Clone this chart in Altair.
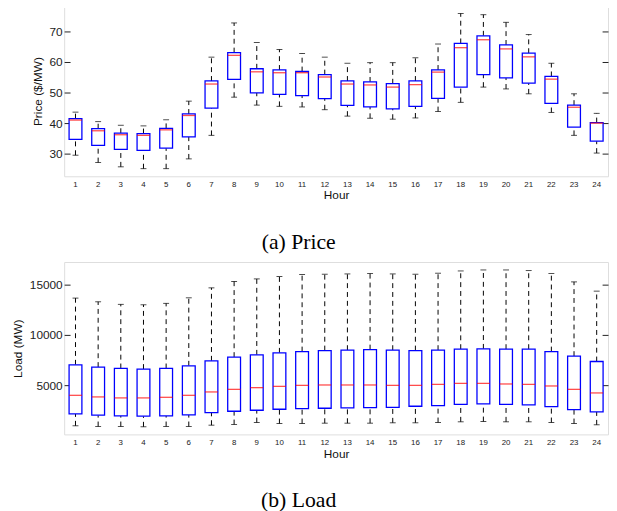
import altair as alt
import pandas as pd

hours = list(range(1, 25))

price_low = [29.5, 27.1, 25.7, 25.1, 25.1, 28.3, 36.0, 48.5, 45.9, 45.5, 45.3, 44.4,
             42.3, 41.6, 41.3, 41.7, 43.8, 46.8, 51.8, 51.2, 49.6, 43.5, 36.0, 30.2]
price_q1 = [34.7, 32.7, 31.4, 31.1, 31.8, 35.5, 44.9, 54.3, 49.9, 49.4, 49.0, 48.0,
            45.8, 45.3, 44.7, 45.5, 48.1, 51.8, 55.9, 54.8, 53.1, 46.5, 38.7, 34.1]
price_med = [41.0, 37.5, 36.2, 36.0, 37.8, 42.5, 52.8, 62.2, 56.8, 56.5, 56.5, 55.1,
             52.8, 52.5, 51.8, 52.6, 56.7, 64.7, 67.3, 64.3, 61.7, 54.4, 45.2, 40.0]
price_q3 = [41.5, 38.2, 36.7, 36.6, 38.3, 43.0, 53.8, 63.1, 57.8, 57.4, 56.9, 55.9,
            53.8, 53.5, 52.9, 53.8, 57.4, 66.1, 68.6, 65.6, 62.9, 55.3, 45.9, 40.2]
price_high = [43.6, 40.5, 39.3, 39.1, 41.1, 47.2, 61.6, 72.8, 66.4, 64.1, 62.8, 61.6,
              59.6, 59.8, 59.8, 61.4, 65.9, 75.9, 75.5, 73.0, 69.0, 59.6, 49.6, 43.2]

load_low = [1005, 936, 936, 907, 936, 936, 1064, 1133, 1330, 1231, 1231, 1261,
            1261, 1261, 1300, 1300, 1330, 1398, 1428, 1398, 1398, 1330, 1231, 1103]
load_q1 = [2186, 2048, 1989, 1950, 1989, 2087, 2314, 2442, 2540, 2638, 2707, 2737,
           2776, 2806, 2835, 2934, 3002, 3130, 3170, 3130, 3071, 2904, 2609, 2383]
load_med = [4016, 3858, 3760, 3760, 3819, 4016, 4350, 4606, 4774, 4902, 5000, 5039,
            5039, 5039, 5000, 5000, 5098, 5197, 5197, 5138, 5098, 4941, 4606, 4252]
load_q3 = [7037, 6810, 6673, 6614, 6673, 6938, 7430, 7795, 8021, 8218, 8346, 8444,
           8483, 8542, 8483, 8444, 8483, 8582, 8611, 8582, 8582, 8346, 7893, 7361]
load_high = [13630, 13266, 13010, 12970, 13108, 13659, 14643, 15273, 15529, 15765, 15962, 15991,
             16021, 16060, 16021, 15991, 16090, 16316, 16414, 16414, 16355, 16060, 15234, 14318]

price_ticks = [30, 40, 50, 60, 70]
load_ticks = [5000, 10000, 15000]

FONT = "Liberation Sans"


def panel(low, q1, med, q3, high, domain, ticks, ytitle, caption, height, cap_offset):
    df = pd.DataFrame({"hour": hours, "low": low, "q1": q1, "med": med, "q3": q3, "high": high})
    yscale = alt.Scale(domain=domain, nice=False, zero=False)
    x = alt.X("hour:O",
              scale=alt.Scale(paddingInner=0, paddingOuter=0),
              axis=alt.Axis(title="Hour", labelAngle=0, ticks=False, domain=False,
                            labelFont=FONT, labelFontSize=8, labelColor="#222",
                            labelPadding=4, titleFont=FONT, titleFontSize=12,
                            titleFontWeight="normal", titleColor="#111", titlePadding=2))
    left_axis = alt.Axis(orient="left", values=ticks, format="d", title=ytitle, grid=False,
                         domain=False, offset=-6, tickSize=6, tickColor="#222", labelPadding=2,
                         labelFont=FONT, labelFontSize=12, labelColor="#222",
                         titleFont=FONT, titleFontSize=12, titleFontWeight="normal",
                         titleColor="#111", titlePadding=5)
    right_axis = alt.Axis(orient="right", values=ticks, title=None, grid=False, domain=False,
                          offset=-6, tickSize=6, tickColor="#222", labels=False)
    base = alt.Chart(df).encode(x=x)
    upper = base.mark_rule(color="black", strokeDash=[5, 4], strokeWidth=1).encode(
        y=alt.Y("q3:Q", scale=yscale, axis=left_axis), y2="high:Q")
    lower = base.mark_rule(color="black", strokeDash=[5, 4], strokeWidth=1).encode(
        y=alt.Y("low:Q", scale=yscale, axis=None), y2="q1:Q")
    cap_hi = base.mark_tick(color="black", size=6, thickness=1).encode(
        y=alt.Y("high:Q", scale=yscale, axis=None))
    cap_lo = base.mark_tick(color="black", size=6, thickness=1).encode(
        y=alt.Y("low:Q", scale=yscale, axis=None))
    box = base.mark_bar(size=13, fill="white", stroke="#0000ff", strokeWidth=1.3).encode(
        y=alt.Y("q1:Q", scale=yscale, axis=None), y2="q3:Q")
    median = base.mark_tick(color="#ff0000", size=13, thickness=1.3).encode(
        y=alt.Y("med:Q", scale=yscale, axis=None))
    right = base.mark_tick(opacity=0).encode(
        y=alt.Y("med:Q", scale=yscale, axis=right_axis))
    return alt.layer(upper, lower, cap_hi, cap_lo, box, median, right).resolve_scale(
        y="independent").properties(
        width=552, height=height,
        title=alt.TitleParams(caption, orient="bottom", anchor="middle", frame="group",
                              font="Liberation Serif", fontSize=22, fontWeight="normal",
                              color="black", offset=cap_offset, dx=-38))


top = panel(price_low, price_q1, price_med, price_q3, price_high, [22.6, 78.4],
            price_ticks, "Price ($/MW)", "(a) Price", 173, 32)
bottom = panel(load_low, load_q1, load_med, load_q3, load_high, [150, 17200],
               load_ticks, "Load (MW)", "(b) Load", 175, 32)

chart = alt.vconcat(top, bottom, spacing=7).properties(
    padding={"left": 3, "top": -7, "right": 0, "bottom": 0}
).configure_view(stroke="#222", strokeWidth=1.6).configure(background="white")

chart.save("out.html", embed_options={"renderer": "svg", "actions": False})
